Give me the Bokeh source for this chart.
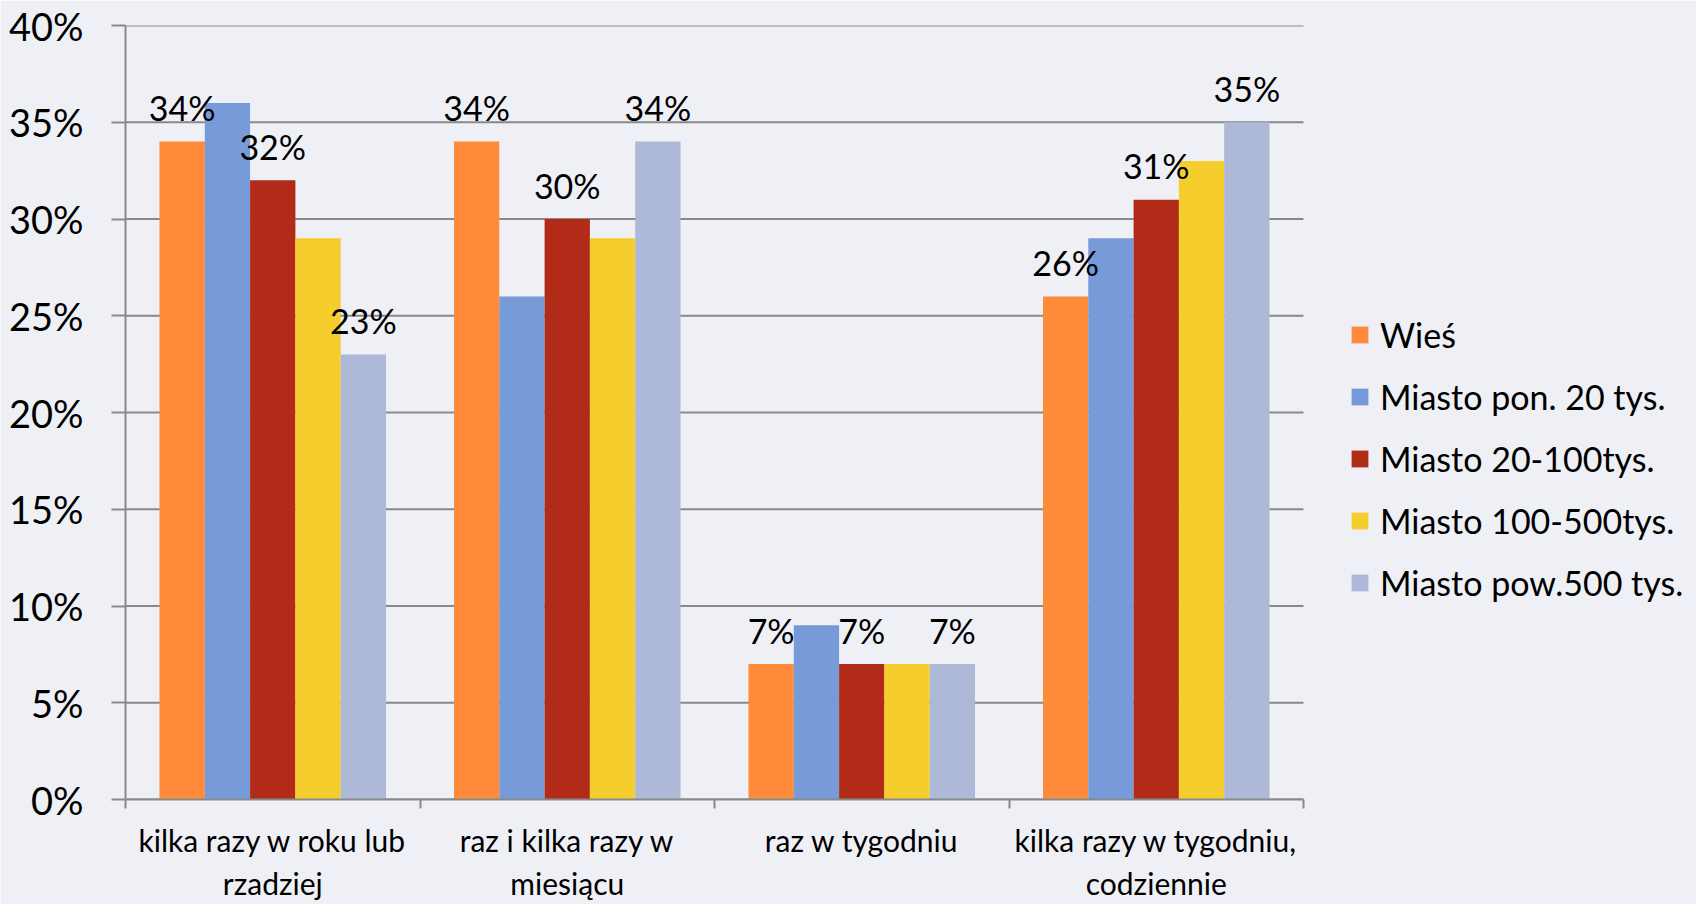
import numpy as np
from bokeh.plotting import figure
from bokeh.models import (ColumnDataSource, FixedTicker, NumeralTickFormatter,
                          Legend, LegendItem, Range1d)
from bokeh.core.properties import value
from bokeh.embed import file_html
from bokeh.resources import INLINE

# ---------------- data ----------------
categories = ["kilka razy w roku lub\nrzadziej",
              "raz i kilka razy w\nmiesiącu",
              "raz w tygodniu",
              "kilka razy w tygodniu,\ncodziennie"]
series_names = ["Wieś", "Miasto pon. 20 tys.", "Miasto 20-100tys.",
                "Miasto 100-500tys.", "Miasto pow.500 tys."]
wies = [34, 34, 7, 26]
miasto_pon20 = [36, 26, 9, 29]
miasto_20_100 = [32, 30, 7, 31]
miasto_100_500 = [29, 29, 7, 33]
miasto_pow500 = [23, 34, 7, 35]
series_values = [wies, miasto_pon20, miasto_20_100, miasto_100_500, miasto_pow500]
series_labelled = [True, False, True, False, True]
colors = ["#FF8A3A", "#779AD8", "#B22B18", "#F5CE2E", "#ADB9D7"]
y_ticks_pct = [0, 5, 10, 15, 20, 25, 30, 35, 40]

# ---------------- layout / style ----------------
W, H = 1696, 904
FRAME_LEFT, FRAME_TOP, FRAME_BOTTOM_PAD = 125, 25, 105
PLOT_RIGHT = 1303           # where the category area ends (px)
FONT = "Lato"
BG = "#EFF0F5"
GRID = "#898989"

n_cat = len(categories)
n_ser = len(series_names)
slot = 1.0 / (n_ser + 1.5)   # Excel-like gap width 150%
x_end = n_cat * (W - FRAME_LEFT) / (PLOT_RIGHT - FRAME_LEFT)

p = figure(width=W, height=H, output_backend="svg", toolbar_location=None,
           x_range=Range1d(0, x_end), y_range=Range1d(0, 0.40),
           min_border_left=FRAME_LEFT, min_border_right=0,
           min_border_top=FRAME_TOP, min_border_bottom=FRAME_BOTTOM_PAD)
p.background_fill_color = BG
p.border_fill_color = BG
p.outline_line_color = None

# horizontal grid lines limited to the category area
yt = np.array(y_ticks_pct) / 100.0
p.segment(x0=0, x1=n_cat, y0=yt, y1=yt, line_color=GRID, line_width=2)

items = []
label_sources = []
for j, (name, vals, col) in enumerate(zip(series_names, series_values, colors)):
    xs = np.arange(n_cat) + 0.5 + (j - (n_ser - 1) / 2) * slot
    ys = np.array(vals) / 100.0
    src = ColumnDataSource(dict(x=xs, top=ys, txt=[f"{v}%" for v in vals]))
    r = p.vbar(x="x", top="top", bottom=0, width=slot, source=src,
               fill_color=col, line_color=None)
    items.append(LegendItem(label=name, renderers=[r]))
    if series_labelled[j]:
        label_sources.append(src)

for src in label_sources:
    p.text(x="x", y="top", text="txt", source=src, text_align="center",
           text_baseline="alphabetic", y_offset=-34,
           text_font=value(FONT), text_font_size="34px", text_color="black")

# y axis
yax = p.yaxis[0]
yax.ticker = FixedTicker(ticks=list(yt))
yax.formatter = NumeralTickFormatter(format="0%")
yax.axis_line_color = GRID
yax.axis_line_width = 2
yax.major_tick_line_color = GRID
yax.major_tick_line_width = 2
yax.major_tick_out = 14
yax.major_tick_in = 0
yax.minor_tick_line_color = None
yax.major_label_standoff = 28
yax.major_label_text_font = FONT
yax.major_label_text_font_size = "38px"
yax.major_label_text_color = "black"

# x axis
xax = p.xaxis[0]
centers = [i + 0.5 for i in range(n_cat)]
xax.bounds = (0, n_cat)
xax.ticker = FixedTicker(ticks=centers, minor_ticks=list(range(n_cat + 1)))
xax.major_label_overrides = {c: lab for c, lab in zip(centers, categories)}
xax.axis_line_color = GRID
xax.axis_line_width = 2
xax.major_tick_line_color = None
xax.major_tick_out = 0
xax.major_tick_in = 0
xax.minor_tick_line_color = GRID
xax.minor_tick_line_width = 2
xax.minor_tick_out = 9
xax.minor_tick_in = 0
xax.major_label_standoff = 13
xax.major_label_text_font = FONT
xax.major_label_text_font_size = "30px"
xax.major_label_text_color = "black"

p.xgrid.grid_line_color = None
p.ygrid.grid_line_color = None

legend = Legend(items=items, location=(1349 - FRAME_LEFT, 196),
                orientation="vertical",
                background_fill_alpha=0, border_line_color=None,
                padding=0, margin=0, glyph_width=21, glyph_height=21,
                label_standoff=10, spacing=21, label_height=40,
                label_text_font=FONT, label_text_font_size="34px",
                label_text_color="black")
p.add_layout(legend)

open("out.html", "w").write(file_html(p, INLINE))
